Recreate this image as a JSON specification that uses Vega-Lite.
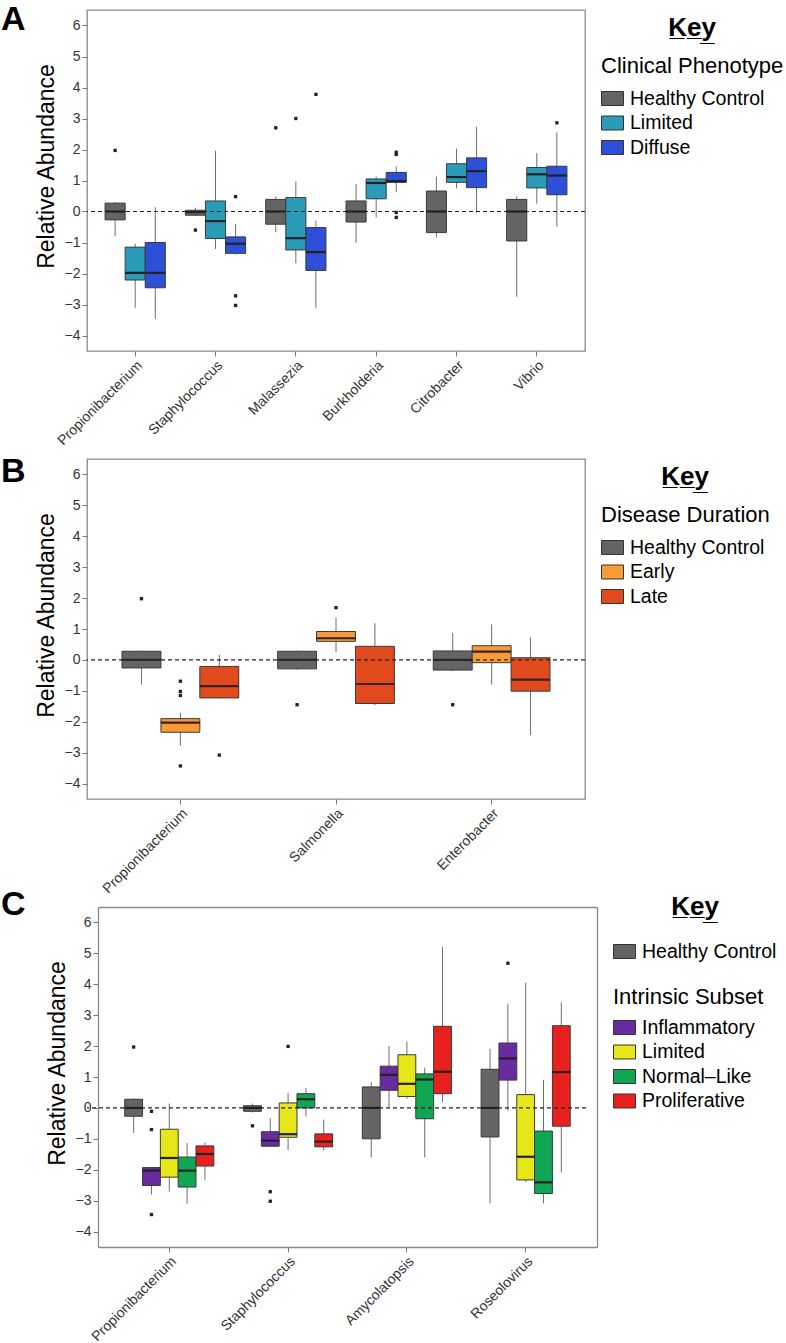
{
  "$schema": "https://vega.github.io/schema/vega-lite/v6.json",
  "padding": {"left": 0, "top": 2, "right": 0, "bottom": 0},
  "background": "white",
  "config": {
    "font": "Liberation Sans",
    "view": {"stroke": "#8a8a8a", "strokeWidth": 1.3},
    "axis": {"grid": false, "domain": false, "tickColor": "#7a7a7a", "tickSize": 5, "labelFontSize": 14, "labelColor": "#333333", "labelPadding": 2, "domainColor": "#8a8a8a", "domainWidth": 1.3},
    "axisY": {"titleFontSize": 23, "titleFontWeight": "normal", "titleColor": "#000000", "titlePadding": 6, "titleY": 156},
    "axisX": {"labelAngle": -45, "labelFontSize": 14},
    "legend": {"orient": "right", "offset": 11, "padding": 5, "labelColor": "#000000", "titleColor": "#000000", "labelLimit": 400, "titleLimit": 400, "layout": {"right": {"anchor": "start", "direction": "vertical", "margin": 0}}},
    "title": {"color": "#000000"}
  },
  "datasets": {
    "A_box": [
      {"genus": "Propionibacterium", "group": "Healthy Control", "lo": -0.80, "q1": -0.27, "med": 0, "q3": 0.27, "hi": 0.30},
      {"genus": "Propionibacterium", "group": "Limited", "lo": -3.11, "q1": -2.21, "med": -1.98, "q3": -1.15, "hi": -1.04},
      {"genus": "Propionibacterium", "group": "Diffuse", "lo": -3.46, "q1": -2.46, "med": -1.98, "q3": -1.0, "hi": 0.14},
      {"genus": "Staphylococcus", "group": "Healthy Control", "lo": -0.15, "q1": -0.12, "med": -0.02, "q3": 0.04, "hi": 0.12},
      {"genus": "Staphylococcus", "group": "Limited", "lo": -1.21, "q1": -0.87, "med": -0.31, "q3": 0.34, "hi": 1.96},
      {"genus": "Staphylococcus", "group": "Diffuse", "lo": -1.39, "q1": -1.35, "med": -1.04, "q3": -0.82, "hi": -0.40},
      {"genus": "Malassezia", "group": "Healthy Control", "lo": -0.67, "q1": -0.41, "med": 0, "q3": 0.39, "hi": 0.48},
      {"genus": "Malassezia", "group": "Limited", "lo": -1.67, "q1": -1.24, "med": -0.86, "q3": 0.45, "hi": 0.97},
      {"genus": "Malassezia", "group": "Diffuse", "lo": -3.11, "q1": -1.90, "med": -1.31, "q3": -0.52, "hi": -0.30},
      {"genus": "Burkholderia", "group": "Healthy Control", "lo": -1.01, "q1": -0.34, "med": 0, "q3": 0.34, "hi": 0.89},
      {"genus": "Burkholderia", "group": "Limited", "lo": -0.19, "q1": 0.41, "med": 0.92, "q3": 1.05, "hi": 1.13},
      {"genus": "Burkholderia", "group": "Diffuse", "lo": 0.63, "q1": 0.94, "med": 0.98, "q3": 1.26, "hi": 1.46},
      {"genus": "Citrobacter", "group": "Healthy Control", "lo": -0.83, "q1": -0.68, "med": 0, "q3": 0.66, "hi": 1.13},
      {"genus": "Citrobacter", "group": "Limited", "lo": 0.75, "q1": 0.94, "med": 1.11, "q3": 1.54, "hi": 2.03},
      {"genus": "Citrobacter", "group": "Diffuse", "lo": -0.04, "q1": 0.77, "med": 1.30, "q3": 1.73, "hi": 2.73},
      {"genus": "Vibrio", "group": "Healthy Control", "lo": -2.75, "q1": -0.95, "med": 0, "q3": 0.39, "hi": 0.49},
      {"genus": "Vibrio", "group": "Limited", "lo": 0.25, "q1": 0.76, "med": 1.20, "q3": 1.42, "hi": 1.89},
      {"genus": "Vibrio", "group": "Diffuse", "lo": -0.49, "q1": 0.54, "med": 1.16, "q3": 1.46, "hi": 2.55}
    ],
    "A_out": [
      {"genus": "Propionibacterium", "group": "Healthy Control", "value": 1.97},
      {"genus": "Staphylococcus", "group": "Healthy Control", "value": -0.60},
      {"genus": "Staphylococcus", "group": "Diffuse", "value": 0.48},
      {"genus": "Staphylococcus", "group": "Diffuse", "value": -2.72},
      {"genus": "Staphylococcus", "group": "Diffuse", "value": -3.03},
      {"genus": "Malassezia", "group": "Healthy Control", "value": 2.70},
      {"genus": "Malassezia", "group": "Limited", "value": 3.0},
      {"genus": "Malassezia", "group": "Diffuse", "value": 3.78},
      {"genus": "Burkholderia", "group": "Diffuse", "value": 1.91},
      {"genus": "Burkholderia", "group": "Diffuse", "value": 1.84},
      {"genus": "Burkholderia", "group": "Diffuse", "value": -0.03},
      {"genus": "Burkholderia", "group": "Diffuse", "value": -0.19},
      {"genus": "Vibrio", "group": "Diffuse", "value": 2.86}
    ],
    "B_box": [
      {"genus": "Propionibacterium", "group": "Healthy Control", "lo": -0.80, "q1": -0.26, "med": 0, "q3": 0.28, "hi": 0.30},
      {"genus": "Propionibacterium", "group": "Early", "lo": -2.78, "q1": -2.34, "med": -2.03, "q3": -1.90, "hi": -1.71},
      {"genus": "Propionibacterium", "group": "Late", "lo": -1.25, "q1": -1.23, "med": -0.85, "q3": -0.21, "hi": 0.16},
      {"genus": "Salmonella", "group": "Healthy Control", "lo": -0.32, "q1": -0.29, "med": 0, "q3": 0.28, "hi": 0.30},
      {"genus": "Salmonella", "group": "Early", "lo": 0.25, "q1": 0.60, "med": 0.70, "q3": 0.92, "hi": 1.37},
      {"genus": "Salmonella", "group": "Late", "lo": -1.47, "q1": -1.41, "med": -0.78, "q3": 0.44, "hi": 1.19},
      {"genus": "Enterobacter", "group": "Healthy Control", "lo": -0.36, "q1": -0.33, "med": 0, "q3": 0.29, "hi": 0.87},
      {"genus": "Enterobacter", "group": "Early", "lo": -0.80, "q1": -0.09, "med": 0.27, "q3": 0.46, "hi": 1.15},
      {"genus": "Enterobacter", "group": "Late", "lo": -2.43, "q1": -1.01, "med": -0.64, "q3": 0.07, "hi": 0.73}
    ],
    "B_out": [
      {"genus": "Propionibacterium", "group": "Healthy Control", "value": 1.98},
      {"genus": "Propionibacterium", "group": "Early", "value": -0.69},
      {"genus": "Propionibacterium", "group": "Early", "value": -1.02},
      {"genus": "Propionibacterium", "group": "Early", "value": -1.15},
      {"genus": "Propionibacterium", "group": "Early", "value": -3.43},
      {"genus": "Propionibacterium", "group": "Late", "value": -3.08},
      {"genus": "Salmonella", "group": "Healthy Control", "value": -1.45},
      {"genus": "Salmonella", "group": "Early", "value": 1.69},
      {"genus": "Enterobacter", "group": "Healthy Control", "value": -1.45}
    ],
    "C_hc": [
      {"genus": "Propionibacterium", "group": "Healthy Control", "lo": -0.81, "q1": -0.27, "med": 0, "q3": 0.28, "hi": 0.31},
      {"genus": "Staphylococcus", "group": "Healthy Control", "lo": -0.15, "q1": -0.11, "med": 0, "q3": 0.07, "hi": 0.14},
      {"genus": "Amycolatopsis", "group": "Healthy Control", "lo": -1.6, "q1": -1.0, "med": 0, "q3": 0.68, "hi": 0.83},
      {"genus": "Roseolovirus", "group": "Healthy Control", "lo": -3.09, "q1": -0.94, "med": 0, "q3": 1.25, "hi": 1.91}
    ],
    "C_box": [
      {"genus": "Propionibacterium", "group": "Inflammatory", "lo": -2.80, "q1": -2.51, "med": -2.03, "q3": -1.93, "hi": -1.93},
      {"genus": "Propionibacterium", "group": "Limited", "lo": -2.71, "q1": -2.24, "med": -1.62, "q3": -0.69, "hi": 0.14},
      {"genus": "Propionibacterium", "group": "Normal–Like", "lo": -3.10, "q1": -2.56, "med": -2.03, "q3": -1.59, "hi": -1.14},
      {"genus": "Propionibacterium", "group": "Proliferative", "lo": -2.34, "q1": -1.88, "med": -1.49, "q3": -1.23, "hi": -1.12},
      {"genus": "Staphylococcus", "group": "Inflammatory", "lo": -1.26, "q1": -1.24, "med": -1.06, "q3": -0.77, "hi": -0.33},
      {"genus": "Staphylococcus", "group": "Limited", "lo": -1.37, "q1": -0.95, "med": -0.85, "q3": 0.16, "hi": 0.49},
      {"genus": "Staphylococcus", "group": "Normal–Like", "lo": -0.28, "q1": 0.0, "med": 0.28, "q3": 0.46, "hi": 0.64},
      {"genus": "Staphylococcus", "group": "Proliferative", "lo": -1.37, "q1": -1.26, "med": -1.09, "q3": -0.84, "hi": -0.38},
      {"genus": "Amycolatopsis", "group": "Inflammatory", "lo": 0.0, "q1": 0.57, "med": 1.07, "q3": 1.35, "hi": 2.0},
      {"genus": "Amycolatopsis", "group": "Limited", "lo": 0.30, "q1": 0.37, "med": 0.78, "q3": 1.72, "hi": 2.15},
      {"genus": "Amycolatopsis", "group": "Normal–Like", "lo": -1.6, "q1": -0.35, "med": 0.92, "q3": 1.1, "hi": 1.30},
      {"genus": "Amycolatopsis", "group": "Proliferative", "lo": 0.18, "q1": 0.46, "med": 1.17, "q3": 2.64, "hi": 5.21},
      {"genus": "Roseolovirus", "group": "Inflammatory", "lo": -0.09, "q1": 0.90, "med": 1.60, "q3": 2.10, "hi": 3.37},
      {"genus": "Roseolovirus", "group": "Limited", "lo": -2.40, "q1": -2.33, "med": -1.58, "q3": 0.43, "hi": 4.05},
      {"genus": "Roseolovirus", "group": "Normal–Like", "lo": -3.09, "q1": -2.77, "med": -2.41, "q3": -0.75, "hi": 0.91},
      {"genus": "Roseolovirus", "group": "Proliferative", "lo": -2.09, "q1": -0.59, "med": 1.16, "q3": 2.66, "hi": 3.41}
    ],
    "C_out": [
      {"genus": "Propionibacterium", "group": "Healthy Control", "value": 1.97},
      {"genus": "Propionibacterium", "group": "Inflammatory", "value": -0.11},
      {"genus": "Propionibacterium", "group": "Inflammatory", "value": -0.70},
      {"genus": "Propionibacterium", "group": "Inflammatory", "value": -3.45},
      {"genus": "Staphylococcus", "group": "Healthy Control", "value": -0.58},
      {"genus": "Staphylococcus", "group": "Inflammatory", "value": -2.71},
      {"genus": "Staphylococcus", "group": "Inflammatory", "value": -3.02},
      {"genus": "Staphylococcus", "group": "Limited", "value": 1.99},
      {"genus": "Roseolovirus", "group": "Inflammatory", "value": 4.68}
    ],
    "one": [{}]
  },
  "bounds": "flush",
  "spacing": 108,
  "resolve": {"scale": {"x": "independent", "xOffset": "independent", "y": "independent", "color": "independent"}, "legend": {"color": "independent"}},
  "vconcat": [
    {
      "width": 498, "height": 341,
      "title": {"text": "A", "orient": "left", "anchor": "end", "angle": 0, "align": "right", "baseline": "top", "fontSize": 34, "fontWeight": "bold", "offset": -15, "dy": -7},
      "resolve": {"scale": {"color": "independent"}},
      "layer": [
        {
          "data": {"name": "one"},
          "mark": {"type": "rule", "opacity": 0},
          "encoding": {
            "y": {"datum": 0, "type": "quantitative", "scale": {"domain": [-4.5, 6.5], "nice": false, "zero": false}, "axis": {"title": "Relative Abundance", "values": [-4, -3, -2, -1, 0, 1, 2, 3, 4, 5, 6]}},
            "color": {"datum": "Clinical Phenotype", "type": "nominal", "scale": {"range": ["#000000"]},
              "legend": {"title": "K̲e̲y̲", "titleFontSize": 26, "titleFontWeight": "bold", "titleAnchor": "middle", "titlePadding": 14, "labelFontSize": 22, "symbolSize": 0, "symbolOpacity": 0, "symbolStrokeWidth": 0, "labelOffset": -22}}
          }
        },
        {
          "data": {"name": "A_box"},
          "mark": {"type": "rule", "color": "#6e6e6e", "strokeWidth": 1},
          "encoding": {
            "x": {"field": "genus", "type": "nominal", "scale": {"domain": ["Propionibacterium", "Staphylococcus", "Malassezia", "Burkholderia", "Citrobacter", "Vibrio"], "paddingInner": 0, "paddingOuter": 0.1}, "axis": {"title": null, "labelAngle": -45}},
            "xOffset": {"field": "group", "scale": {"domain": ["Healthy Control", "Limited", "Diffuse"], "paddingInner": 0, "paddingOuter": 0.5}},
            "y": {"field": "lo", "type": "quantitative", "scale": {"domain": [-4.5, 6.5], "nice": false, "zero": false}, "axis": {"title": "Relative Abundance", "values": [-4, -3, -2, -1, 0, 1, 2, 3, 4, 5, 6]}},
            "y2": {"field": "hi"}
          }
        },
        {
          "data": {"name": "A_box"},
          "mark": {"type": "bar", "stroke": "#3a3a3a", "strokeWidth": 1, "width": {"band": 1}},
          "encoding": {
            "x": {"field": "genus", "type": "nominal", "scale": {"domain": ["Propionibacterium", "Staphylococcus", "Malassezia", "Burkholderia", "Citrobacter", "Vibrio"], "paddingInner": 0, "paddingOuter": 0.1}, "axis": {"title": null, "labelAngle": -45}},
            "xOffset": {"field": "group", "scale": {"domain": ["Healthy Control", "Limited", "Diffuse"], "paddingInner": 0, "paddingOuter": 0.5}},
            "y": {"field": "q1", "type": "quantitative", "scale": {"domain": [-4.5, 6.5], "nice": false, "zero": false}, "axis": {"title": "Relative Abundance", "values": [-4, -3, -2, -1, 0, 1, 2, 3, 4, 5, 6]}},
            "y2": {"field": "q3"},
            "color": {"field": "group", "type": "nominal", "scale": {"domain": ["Healthy Control", "Limited", "Diffuse"], "range": ["#646464", "#2b9cb8", "#2e50d8"]},
              "legend": {"title": null, "symbolType": "M-1,-0.636H1V0.636H-1Z", "symbolSize": 484, "symbolStrokeColor": "#333333", "symbolStrokeWidth": 1, "labelFontSize": 19.5, "labelOffset": 6, "rowPadding": 3.5}}
          }
        },
        {
          "data": {"name": "A_box"},
          "mark": {"type": "tick", "color": "#222222", "thickness": 2.2, "size": 20, "opacity": 1},
          "encoding": {
            "x": {"field": "genus", "type": "nominal", "scale": {"domain": ["Propionibacterium", "Staphylococcus", "Malassezia", "Burkholderia", "Citrobacter", "Vibrio"], "paddingInner": 0, "paddingOuter": 0.1}, "axis": {"title": null, "labelAngle": -45}},
            "xOffset": {"field": "group", "scale": {"domain": ["Healthy Control", "Limited", "Diffuse"], "paddingInner": 0, "paddingOuter": 0.5}},
            "y": {"field": "med", "type": "quantitative", "scale": {"domain": [-4.5, 6.5], "nice": false, "zero": false}, "axis": {"title": "Relative Abundance", "values": [-4, -3, -2, -1, 0, 1, 2, 3, 4, 5, 6]}}
          }
        },
        {
          "data": {"name": "A_out"},
          "mark": {"type": "square", "color": "#222222", "size": 11, "opacity": 1},
          "encoding": {
            "x": {"field": "genus", "type": "nominal", "scale": {"domain": ["Propionibacterium", "Staphylococcus", "Malassezia", "Burkholderia", "Citrobacter", "Vibrio"], "paddingInner": 0, "paddingOuter": 0.1}, "axis": {"title": null, "labelAngle": -45}},
            "xOffset": {"field": "group", "scale": {"domain": ["Healthy Control", "Limited", "Diffuse"], "paddingInner": 0, "paddingOuter": 0.5}},
            "y": {"field": "value", "type": "quantitative", "scale": {"domain": [-4.5, 6.5], "nice": false, "zero": false}, "axis": {"title": "Relative Abundance", "values": [-4, -3, -2, -1, 0, 1, 2, 3, 4, 5, 6]}}
          }
        },
        {
          "data": {"name": "one"},
          "mark": {"type": "rule", "color": "#222222", "strokeDash": [4, 3], "strokeWidth": 1.2},
          "encoding": {
            "y": {"datum": 0, "type": "quantitative", "scale": {"domain": [-4.5, 6.5], "nice": false, "zero": false}, "axis": {"title": "Relative Abundance", "values": [-4, -3, -2, -1, 0, 1, 2, 3, 4, 5, 6]}}
          }
        }
      ]
    },
    {
      "width": 498, "height": 340,
      "title": {"text": "B", "orient": "left", "anchor": "end", "angle": 0, "align": "right", "baseline": "top", "fontSize": 34, "fontWeight": "bold", "offset": -15, "dy": -4},
      "resolve": {"scale": {"color": "independent"}},
      "layer": [
        {
          "data": {"name": "one"},
          "mark": {"type": "rule", "opacity": 0},
          "encoding": {
            "y": {"datum": 0, "type": "quantitative", "scale": {"domain": [-4.5, 6.5], "nice": false, "zero": false}, "axis": {"title": "Relative Abundance", "values": [-4, -3, -2, -1, 0, 1, 2, 3, 4, 5, 6]}},
            "color": {"datum": "Disease Duration", "type": "nominal", "scale": {"range": ["#000000"]},
              "legend": {"title": "K̲e̲y̲", "titleFontSize": 26, "titleFontWeight": "bold", "titleAnchor": "middle", "titlePadding": 14, "labelFontSize": 22, "symbolSize": 0, "symbolOpacity": 0, "symbolStrokeWidth": 0, "labelOffset": -22}}
          }
        },
        {
          "data": {"name": "B_box"},
          "mark": {"type": "rule", "color": "#6e6e6e", "strokeWidth": 1},
          "encoding": {
            "x": {"field": "genus", "type": "nominal", "scale": {"domain": ["Propionibacterium", "Salmonella", "Enterobacter"], "paddingInner": 0, "paddingOuter": 0.1}, "axis": {"title": null, "labelAngle": -45}},
            "xOffset": {"field": "group", "scale": {"domain": ["Healthy Control", "Early", "Late"], "paddingInner": 0, "paddingOuter": 0.5}},
            "y": {"field": "lo", "type": "quantitative", "scale": {"domain": [-4.5, 6.5], "nice": false, "zero": false}, "axis": {"title": "Relative Abundance", "values": [-4, -3, -2, -1, 0, 1, 2, 3, 4, 5, 6]}},
            "y2": {"field": "hi"}
          }
        },
        {
          "data": {"name": "B_box"},
          "mark": {"type": "bar", "stroke": "#3a3a3a", "strokeWidth": 1, "width": {"band": 1}},
          "encoding": {
            "x": {"field": "genus", "type": "nominal", "scale": {"domain": ["Propionibacterium", "Salmonella", "Enterobacter"], "paddingInner": 0, "paddingOuter": 0.1}, "axis": {"title": null, "labelAngle": -45}},
            "xOffset": {"field": "group", "scale": {"domain": ["Healthy Control", "Early", "Late"], "paddingInner": 0, "paddingOuter": 0.5}},
            "y": {"field": "q1", "type": "quantitative", "scale": {"domain": [-4.5, 6.5], "nice": false, "zero": false}, "axis": {"title": "Relative Abundance", "values": [-4, -3, -2, -1, 0, 1, 2, 3, 4, 5, 6]}},
            "y2": {"field": "q3"},
            "color": {"field": "group", "type": "nominal", "scale": {"domain": ["Healthy Control", "Early", "Late"], "range": ["#646464", "#f99b35", "#e04a1c"]},
              "legend": {"title": null, "symbolType": "M-1,-0.636H1V0.636H-1Z", "symbolSize": 484, "symbolStrokeColor": "#333333", "symbolStrokeWidth": 1, "labelFontSize": 19.5, "labelOffset": 6, "rowPadding": 3.5}}
          }
        },
        {
          "data": {"name": "B_box"},
          "mark": {"type": "tick", "color": "#3a2222", "thickness": 2.2, "size": 39, "opacity": 1},
          "encoding": {
            "x": {"field": "genus", "type": "nominal", "scale": {"domain": ["Propionibacterium", "Salmonella", "Enterobacter"], "paddingInner": 0, "paddingOuter": 0.1}, "axis": {"title": null, "labelAngle": -45}},
            "xOffset": {"field": "group", "scale": {"domain": ["Healthy Control", "Early", "Late"], "paddingInner": 0, "paddingOuter": 0.5}},
            "y": {"field": "med", "type": "quantitative", "scale": {"domain": [-4.5, 6.5], "nice": false, "zero": false}, "axis": {"title": "Relative Abundance", "values": [-4, -3, -2, -1, 0, 1, 2, 3, 4, 5, 6]}}
          }
        },
        {
          "data": {"name": "B_out"},
          "mark": {"type": "square", "color": "#222222", "size": 11, "opacity": 1},
          "encoding": {
            "x": {"field": "genus", "type": "nominal", "scale": {"domain": ["Propionibacterium", "Salmonella", "Enterobacter"], "paddingInner": 0, "paddingOuter": 0.1}, "axis": {"title": null, "labelAngle": -45}},
            "xOffset": {"field": "group", "scale": {"domain": ["Healthy Control", "Early", "Late"], "paddingInner": 0, "paddingOuter": 0.5}},
            "y": {"field": "value", "type": "quantitative", "scale": {"domain": [-4.5, 6.5], "nice": false, "zero": false}, "axis": {"title": "Relative Abundance", "values": [-4, -3, -2, -1, 0, 1, 2, 3, 4, 5, 6]}}
          }
        },
        {
          "data": {"name": "one"},
          "mark": {"type": "rule", "color": "#222222", "strokeDash": [4, 3], "strokeWidth": 1.2},
          "encoding": {
            "y": {"datum": 0, "type": "quantitative", "scale": {"domain": [-4.5, 6.5], "nice": false, "zero": false}, "axis": {"title": "Relative Abundance", "values": [-4, -3, -2, -1, 0, 1, 2, 3, 4, 5, 6]}}
          }
        }
      ]
    },
    {
      "width": 510, "height": 340,
      "view": {"stroke": null},
      "title": {"text": "C", "orient": "left", "anchor": "end", "angle": 0, "align": "right", "baseline": "top", "fontSize": 34, "fontWeight": "bold", "offset": -4, "dy": -19},
      "resolve": {"scale": {"color": "independent"}, "axis": {"x": "independent", "y": "independent"}},
      "layer": [
        {
          "data": {"name": "C_hc"},
          "mark": {"type": "rule", "color": "#6e6e6e", "strokeWidth": 1},
          "encoding": {
            "x": {"field": "genus", "type": "nominal", "scale": {"domain": ["Propionibacterium", "Staphylococcus", "Amycolatopsis", "Roseolovirus"], "paddingInner": 0, "paddingOuter": 0.1465, "align": 0.6575}, "axis": {"title": null, "labelAngle": -45, "domain": true, "domainDash": [0, 11, 1000, 0]}},
            "xOffset": {"field": "group", "scale": {"domain": ["Healthy Control", "Inflammatory", "Limited", "Normal–Like", "Proliferative"], "paddingInner": 0, "paddingOuter": 0.8333}},
            "y": {"field": "lo", "type": "quantitative", "scale": {"domain": [-4.5, 6.5], "nice": false, "zero": false}, "axis": {"title": "Relative Abundance", "values": [-4, -3, -2, -1, 0, 1, 2, 3, 4, 5, 6], "offset": -11, "domain": true}},
            "y2": {"field": "hi"}
          }
        },
        {
          "data": {"name": "C_box"},
          "mark": {"type": "rule", "color": "#6e6e6e", "strokeWidth": 1},
          "encoding": {
            "x": {"field": "genus", "type": "nominal", "scale": {"domain": ["Propionibacterium", "Staphylococcus", "Amycolatopsis", "Roseolovirus"], "paddingInner": 0, "paddingOuter": 0.1465, "align": 0.6575}, "axis": {"orient": "top", "title": null, "labels": false, "ticks": false, "domain": true, "domainDash": [0, 11, 1000, 0]}},
            "xOffset": {"field": "group", "scale": {"domain": ["Healthy Control", "Inflammatory", "Limited", "Normal–Like", "Proliferative"], "paddingInner": 0, "paddingOuter": 0.8333}},
            "y": {"field": "lo", "type": "quantitative", "scale": {"domain": [-4.5, 6.5], "nice": false, "zero": false}, "axis": {"orient": "right", "title": null, "labels": false, "ticks": false, "domain": true}},
            "y2": {"field": "hi"}
          }
        },
        {
          "data": {"name": "C_hc"},
          "mark": {"type": "bar", "stroke": "#3a3a3a", "strokeWidth": 1, "width": {"band": 1}},
          "encoding": {
            "x": {"field": "genus", "type": "nominal", "scale": {"domain": ["Propionibacterium", "Staphylococcus", "Amycolatopsis", "Roseolovirus"], "paddingInner": 0, "paddingOuter": 0.1465, "align": 0.6575}, "axis": null},
            "xOffset": {"field": "group", "scale": {"domain": ["Healthy Control", "Inflammatory", "Limited", "Normal–Like", "Proliferative"], "paddingInner": 0, "paddingOuter": 0.8333}},
            "y": {"field": "q1", "type": "quantitative", "scale": {"domain": [-4.5, 6.5], "nice": false, "zero": false}, "axis": null},
            "y2": {"field": "q3"},
            "color": {"field": "group", "type": "nominal", "scale": {"domain": ["Healthy Control"], "range": ["#646464"]},
              "legend": {"title": "K̲e̲y̲", "titleFontSize": 26, "titleFontWeight": "bold", "titleAnchor": "middle", "titlePadding": 20, "symbolType": "M-1,-0.636H1V0.636H-1Z", "symbolSize": 484, "symbolStrokeColor": "#333333", "symbolStrokeWidth": 1, "labelFontSize": 19.5, "labelOffset": 6, "padding": -13, "offset": 29}}
          }
        },
        {
          "data": {"name": "C_box"},
          "mark": {"type": "bar", "stroke": "#3a3a3a", "strokeWidth": 1, "width": {"band": 1}},
          "encoding": {
            "x": {"field": "genus", "type": "nominal", "scale": {"domain": ["Propionibacterium", "Staphylococcus", "Amycolatopsis", "Roseolovirus"], "paddingInner": 0, "paddingOuter": 0.1465, "align": 0.6575}, "axis": null},
            "xOffset": {"field": "group", "scale": {"domain": ["Healthy Control", "Inflammatory", "Limited", "Normal–Like", "Proliferative"], "paddingInner": 0, "paddingOuter": 0.8333}},
            "y": {"field": "q1", "type": "quantitative", "scale": {"domain": [-4.5, 6.5], "nice": false, "zero": false}, "axis": null},
            "y2": {"field": "q3"},
            "color": {"field": "group", "type": "nominal", "scale": {"domain": ["Inflammatory", "Limited", "Normal–Like", "Proliferative"], "range": ["#6a2ba0", "#e6e619", "#10a653", "#e8211e"]},
              "legend": {"title": ["", "Intrinsic Subset"], "titleFontSize": 22, "titleFontWeight": "normal", "titleLineHeight": 52, "titleBaseline": "top", "titlePadding": 7, "symbolType": "M-1,-0.636H1V0.636H-1Z", "symbolSize": 484, "symbolStrokeColor": "#333333", "symbolStrokeWidth": 1, "labelFontSize": 19.5, "labelOffset": 6, "rowPadding": 3.5, "padding": -13, "offset": 29}}
          }
        },
        {
          "data": {"name": "C_hc"},
          "mark": {"type": "tick", "color": "#222222", "thickness": 2.2, "size": 18, "opacity": 1},
          "encoding": {
            "x": {"field": "genus", "type": "nominal", "scale": {"domain": ["Propionibacterium", "Staphylococcus", "Amycolatopsis", "Roseolovirus"], "paddingInner": 0, "paddingOuter": 0.1465, "align": 0.6575}, "axis": null},
            "xOffset": {"field": "group", "scale": {"domain": ["Healthy Control", "Inflammatory", "Limited", "Normal–Like", "Proliferative"], "paddingInner": 0, "paddingOuter": 0.8333}},
            "y": {"field": "med", "type": "quantitative", "scale": {"domain": [-4.5, 6.5], "nice": false, "zero": false}, "axis": null}
          }
        },
        {
          "data": {"name": "C_box"},
          "mark": {"type": "tick", "color": "#222222", "thickness": 2.2, "size": 18, "opacity": 1},
          "encoding": {
            "x": {"field": "genus", "type": "nominal", "scale": {"domain": ["Propionibacterium", "Staphylococcus", "Amycolatopsis", "Roseolovirus"], "paddingInner": 0, "paddingOuter": 0.1465, "align": 0.6575}, "axis": null},
            "xOffset": {"field": "group", "scale": {"domain": ["Healthy Control", "Inflammatory", "Limited", "Normal–Like", "Proliferative"], "paddingInner": 0, "paddingOuter": 0.8333}},
            "y": {"field": "med", "type": "quantitative", "scale": {"domain": [-4.5, 6.5], "nice": false, "zero": false}, "axis": null}
          }
        },
        {
          "data": {"name": "C_out"},
          "mark": {"type": "square", "color": "#222222", "size": 11, "opacity": 1},
          "encoding": {
            "x": {"field": "genus", "type": "nominal", "scale": {"domain": ["Propionibacterium", "Staphylococcus", "Amycolatopsis", "Roseolovirus"], "paddingInner": 0, "paddingOuter": 0.1465, "align": 0.6575}, "axis": null},
            "xOffset": {"field": "group", "scale": {"domain": ["Healthy Control", "Inflammatory", "Limited", "Normal–Like", "Proliferative"], "paddingInner": 0, "paddingOuter": 0.8333}},
            "y": {"field": "value", "type": "quantitative", "scale": {"domain": [-4.5, 6.5], "nice": false, "zero": false}, "axis": null}
          }
        },
        {
          "data": {"name": "one"},
          "mark": {"type": "rule", "color": "#222222", "strokeWidth": 1.2, "strokeDash": [0, 11, 4, 3, 4, 3, 4, 3, 4, 3, 4, 3, 4, 3, 4, 3, 4, 3, 4, 3, 4, 3, 4, 3, 4, 3, 4, 3, 4, 3, 4, 3, 4, 3, 4, 3, 4, 3, 4, 3, 4, 3, 4, 3, 4, 3, 4, 3, 4, 3, 4, 3, 4, 3, 4, 3, 4, 3, 4, 3, 4, 3, 4, 3, 4, 3, 4, 3, 4, 3, 4, 3, 4, 3, 4, 3, 4, 3, 4, 3, 4, 3, 4, 3, 4, 3, 4, 3, 4, 3, 4, 3, 4, 3, 4, 3, 4, 3, 4, 3, 4, 3, 4, 3, 4, 3, 4, 3, 4, 3, 4, 3, 4, 3, 4, 3, 4, 3, 4, 3, 4, 3, 4, 3, 4, 3, 4, 3, 4, 3, 4, 3, 4, 3, 4, 3, 4, 3, 4, 3, 4, 3, 4, 3, 4, 3, 4, 3]},
          "encoding": {
            "y": {"datum": 0, "type": "quantitative", "scale": {"domain": [-4.5, 6.5], "nice": false, "zero": false}, "axis": null}
          }
        }
      ]
    }
  ]
}
